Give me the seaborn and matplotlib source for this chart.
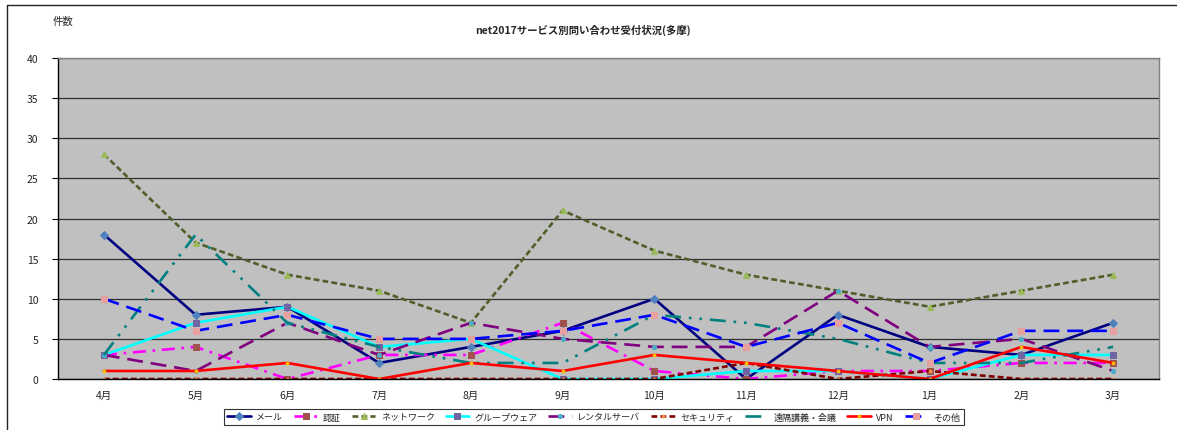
import matplotlib
matplotlib.use("Agg")
import matplotlib.pyplot as plt
from matplotlib.lines import Line2D
from matplotlib.ticker import FixedLocator
import numpy as np
import pandas as pd
import seaborn as sns

months = ["4月", "5月", "6月", "7月", "8月", "9月", "10月", "11月", "12月", "1月", "2月", "3月"]

mail = [18, 8, 9, 2, 4, 6, 10, 0, 8, 4, 3, 7]
auth = [3, 4, 0, 3, 3, 7, 1, 0, 1, 1, 2, 2]
network = [28, 17, 13, 11, 7, 21, 16, 13, 11, 9, 11, 13]
groupware = [3, 7, 9, 4, 5, 0, 0, 1, 1, 0, 3, 3]
rental = [3, 1, 7, 3, 7, 5, 4, 4, 11, 4, 5, 1]
security = [0, 0, 0, 0, 0, 0, 0, 2, 0, 1, 0, 0]
remote = [3, 18, 7, 4, 2, 2, 8, 7, 5, 2, 2, 4]
vpn = [1, 1, 2, 0, 2, 1, 3, 2, 1, 0, 4, 2]
other = [10, 6, 8, 5, 5, 6, 8, 4, 7, 2, 6, 6]

series_names = ["メール", "認証", "ネットワーク", "グループウェア", "レンタルサーバ",
                "セキュリティ", "遠隔講義・会議", "VPN", "その他"]
series_values = [mail, auth, network, groupware, rental, security, remote, vpn, other]

sns.set_theme(style="white")
plt.rcParams["font.family"] = ["Noto Sans CJK JP", "DejaVu Sans"]

# line styling per series: colour, dash pattern, marker, marker colour, marker size
styles = {
    "メール":        dict(color="#000080", ls="-",                     marker="D", mc="#4F81BD", ms=4),
    "認証":          dict(color="#FF00FF", ls=(0, (5, 2.5, 1, 2.5)),    marker="s", mc="#A0504D", ms=5),
    "ネットワーク":  dict(color="#4F5F2A", ls=(0, (2.2, 1.2)),          marker="^", mc="#9BBB59", ms=5),
    "グループウェア": dict(color="#00FFFF", ls="-",                     marker="s", mc="#7064A2", ms=4),
    "レンタルサーバ": dict(color="#800080", ls=(0, (6, 3)),             marker="o", mc="#4BACC6", ms=3),
    "セキュリティ":  dict(color="#800000", ls=(0, (2.2, 1.2)),          marker="o", mc="#F79646", ms=2),
    "遠隔講義・会議": dict(color="#008080", ls=(0, (6, 3, 1, 3, 1, 3)), marker=None, mc="#008080", ms=0),
    "VPN":           dict(color="#FF0000", ls="-",                     marker="o", mc="#FFC000", ms=2),
    "その他":        dict(color="#0000FF", ls=(0, (6, 3)),             marker="s", mc="#E6A0A0", ms=4),
}

rows = []
for name, vals in zip(series_names, series_values):
    for i, v in enumerate(vals):
        rows.append({"pos": i, "month": months[i], "series": name, "count": v})
df = pd.DataFrame(rows)

fig = plt.figure(figsize=(11.77, 4.31), dpi=100)
fig.patch.set_facecolor("white")
ax = fig.add_axes([58 / 1177, 1 - 380 / 431, (1159 - 58) / 1177, (380 - 59) / 431])
ax.set_facecolor("#C0C0C0")

for name in series_names:
    st = styles[name]
    sub = df[df["series"] == name]
    kw = dict(color=st["color"], linestyle=st["ls"], linewidth=1.9)
    if st["marker"]:
        kw.update(marker=st["marker"], markersize=st["ms"],
                  markerfacecolor=st["mc"], markeredgecolor=st["mc"])
    sns.lineplot(data=sub, x="pos", y="count", ax=ax, label=name,
                 legend=False, errorbar=None, sort=False, **kw)

ax.set_xlim(-0.5, 11.5)
ax.set_ylim(0, 40)
ax.set_yticks(np.arange(0, 41, 5))
ax.set_xticks(range(len(months)))
ax.set_xticklabels(months, fontsize=7.5)
ax.xaxis.set_minor_locator(FixedLocator(np.arange(-0.5, 12, 1.0)))
ax.tick_params(axis="x", which="major", length=0, pad=8)
ax.tick_params(axis="x", which="minor", length=4, direction="out", color="black", width=0.8)
ax.tick_params(axis="y", which="major", length=4, direction="out", color="black",
               width=0.8, labelsize=7.5, pad=10, left=True)
ax.set_xlabel("")
ax.set_ylabel("")

ax.yaxis.grid(True, color="#303030", linewidth=0.9)
ax.xaxis.grid(False)
ax.set_axisbelow(True)
for side in ["top", "right"]:
    ax.spines[side].set_color("#808080")
    ax.spines[side].set_linewidth(1.0)
for side in ["left", "bottom"]:
    ax.spines[side].set_color("black")
    ax.spines[side].set_linewidth(1.0)

fig.text(583 / 1177, 1 - 30 / 431, "net2017サービス別問い合わせ受付状況(多摩)",
         ha="center", va="center", fontsize=7.5, fontweight="bold")
fig.text(53 / 1177, 1 - 22 / 431, "件数", ha="left", va="center", fontsize=7.5)

handles = [h for h in ax.get_lines() if h.get_label() in series_names]
leg = fig.legend(handles=handles, labels=series_names, loc="center",
                 bbox_to_anchor=(594 / 1177, 1 - 418 / 431), ncol=9, fontsize=6.5,
                 frameon=True, fancybox=False, edgecolor="black", handlelength=2.6,
                 columnspacing=1.2, handletextpad=0.6, borderpad=0.35)
leg.get_frame().set_linewidth(0.8)

# chart frame
fig.add_artist(Line2D([7 / 1177, 7 / 1177], [0, 1 - 6 / 431], transform=fig.transFigure,
                      color="#222222", linewidth=1.0))
fig.add_artist(Line2D([7 / 1177, 1], [1 - 6 / 431, 1 - 6 / 431], transform=fig.transFigure,
                      color="#222222", linewidth=1.0))

fig.savefig("out.png", dpi=100)
